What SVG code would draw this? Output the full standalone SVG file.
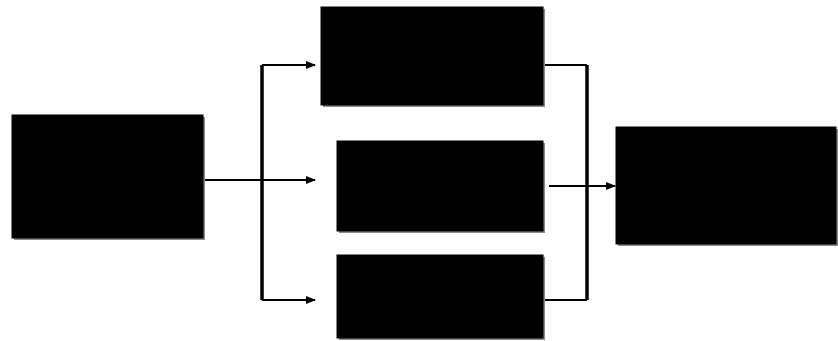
<svg xmlns="http://www.w3.org/2000/svg" width="838" height="341" viewBox="0 0 838 341">
<defs>
<marker id="ah" markerWidth="10" markerHeight="8" refX="9" refY="4" orient="auto" markerUnits="userSpaceOnUse">
<path d="M0,0 L10,4 L0,8 Z" fill="#000"/>
</marker>
<style>
.box{fill:#000;stroke:#000;stroke-width:1}
.sh{fill:#8a8a8a}
.ln{fill:none;stroke:#000;stroke-width:2}
.bus{fill:none;stroke:#000;stroke-width:3.5}
</style>
</defs>
<rect width="838" height="341" fill="#fff"/>
<g id="connectors">
<path class="bus" d="M262,65 V300"/>
<path class="bus" d="M587,65 V300"/>
<path class="ln" d="M262,65 H315" marker-end="url(#ah)"/>
<path class="ln" d="M203,180 H315" marker-end="url(#ah)"/>
<path class="ln" d="M262,300 H315" marker-end="url(#ah)"/>
<path class="ln" d="M543,65 H587"/>
<path class="ln" d="M549,186 H615" marker-end="url(#ah)"/>
<path class="ln" d="M543,300 H587"/>
</g>
<g id="nodeA"><rect class="sh" x="14" y="117" width="191" height="123"/><rect class="box" x="12" y="115" width="191" height="123"/></g>
<g id="nodeB"><rect class="sh" x="323" y="9" width="222" height="98"/><rect class="box" x="321" y="7" width="222" height="98"/></g>
<g id="nodeC"><rect class="sh" x="339" y="143" width="206" height="90"/><rect class="box" x="337" y="141" width="206" height="90"/></g>
<g id="nodeD"><rect class="sh" x="618" y="129" width="220" height="117"/><rect class="box" x="616" y="127" width="220" height="117"/></g>
<g id="nodeE"><rect class="sh" x="339" y="257" width="206" height="83"/><rect class="box" x="337" y="255" width="206" height="83"/></g>
</svg>
